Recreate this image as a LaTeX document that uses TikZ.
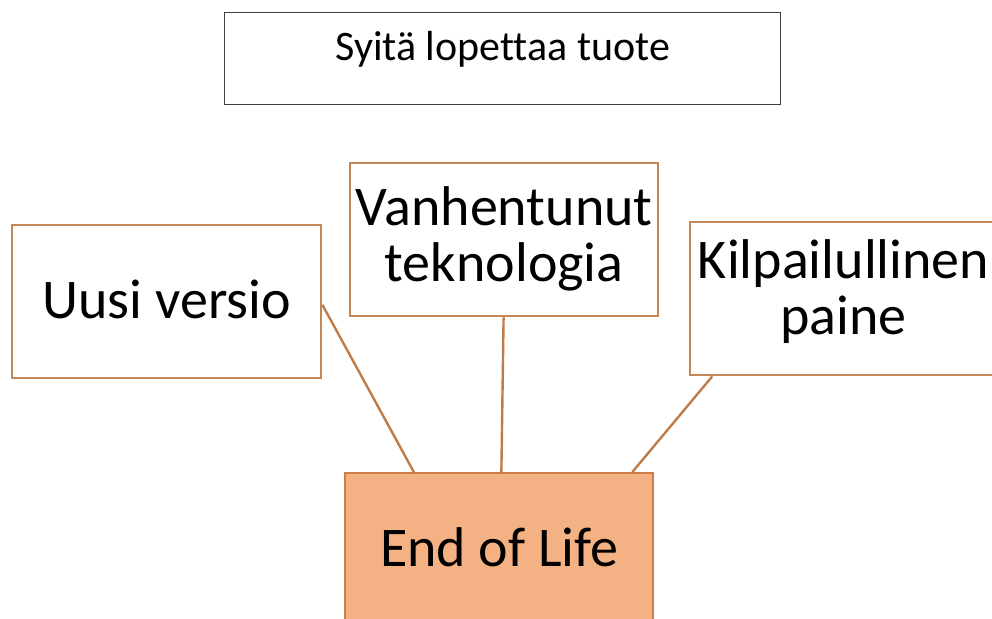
\documentclass[tikz,border=0pt]{standalone}
\usepackage{fontspec}
\setmainfont[Ligatures=NoCommon]{Carlito}
\usetikzlibrary{calc}
\definecolor{boxline}{RGB}{196,134,84}
\definecolor{connline}{RGB}{192,124,72}
\definecolor{eolfill}{RGB}{244,177,131}
\definecolor{eolline}{RGB}{206,126,70}
\definecolor{titleline}{RGB}{64,64,64}
\tikzset{
  causebox/.style={draw=boxline, line width=2.4pt, fill=white, inner sep=0pt, anchor=north west,
    font=\fontsize{56}{56}\selectfont},
  titlebox/.style={draw=titleline, line width=1.2pt, fill=white, inner sep=0pt, anchor=north west,
    font=\fontsize{42}{50}\selectfont},
  eolbox/.style={draw=eolline, line width=2.4pt, fill=eolfill, inner sep=0pt, anchor=north west,
    font=\fontsize{56}{56}\selectfont},
  conn/.style={draw=connline, line width=2.4pt}
}
\newcommand{\twolines}[2]{\begin{tabular}[t]{@{}c@{}}#1\\#2\end{tabular}}
\begin{document}
\begin{tikzpicture}[x=1pt,y=-1pt]
\useasboundingbox (0,0) rectangle (992,618);
\clip (0,0) rectangle (992,618);
\node[titlebox, minimum width=556pt, text height=48pt, text depth=44pt] (title) at (224,12) {Syitä lopettaa tuote};
\node[causebox, minimum width=309pt, text height=93pt, text depth=60pt] (uusi) at (11,224) {Uusi versio};
\node[causebox, minimum width=308pt, text height=62pt, text depth=91pt] (vanh) at (349,162) {\twolines{Vanhentunut}{teknologia}};
\node[causebox, minimum width=307pt, text height=56pt, text depth=97pt] (kilp) at (689,221) {\twolines{Kilpailullinen}{paine}};
\node[eolbox, minimum width=308pt, text height=93pt, text depth=61pt] (eol) at (344,472) {End of Life};
\draw[conn] ($(uusi.north east)!0.52!(uusi.south east)$) -- ($(eol.north west)!0.225!(eol.north east)$);
\draw[conn] ($(vanh.south west)!0.498!(vanh.south east)$) -- ($(eol.north west)!0.507!(eol.north east)$);
\draw[conn] ($(kilp.south west)!0.075!(kilp.south east)$) -- ($(eol.north west)!0.929!(eol.north east)$);
\end{tikzpicture}
\end{document}
